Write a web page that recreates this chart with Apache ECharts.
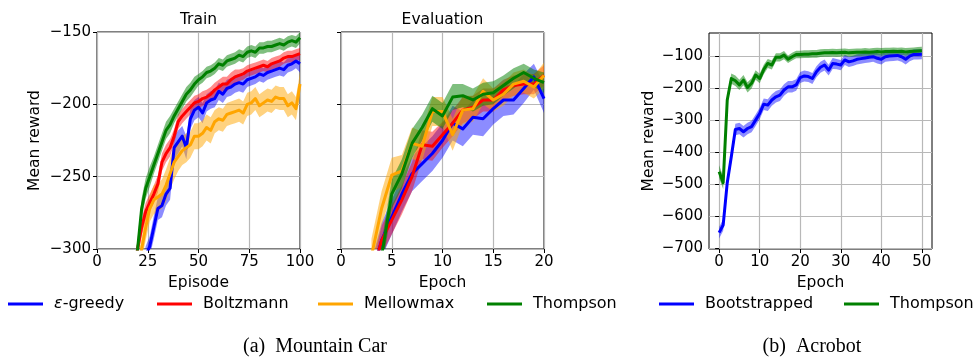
<!DOCTYPE html>
<html>
<head>
<meta charset="utf-8">
<script src="https://cdn.jsdelivr.net/npm/echarts@6/dist/echarts.min.js"></script>
<style>
  html, body { margin: 0; padding: 0; background: #fff; }
  #chart { width: 974px; height: 358px; }
</style>
</head>
<body>
<div id="chart"></div>
<script>
// ---------- Mountain Car: training curves (mean reward per episode) ----------
const trainEpisodes = [18,20,22,24,26,28,30,32,34,36,38,40,42,44,46,48,50,52,54,56,58,60,62,64,66,68,70,72,74,76,78,80,82,84,86,88,90,92,94,96,98,100];
const trainGreedy = [-340,-330,-318,-305,-298,-285,-272,-270,-262,-258,-230,-226,-222,-230,-210,-204,-202,-206,-199,-197,-196,-191,-193,-189,-188,-186,-185,-186,-183,-182,-181,-179,-180,-178,-177,-176,-175,-176,-173,-172,-170,-172];
const trainGreedySpread = [6,6,6,7,7,8,8,8,8,8,8,8,7,8,7,7,7,7,6,6,6,6,6,6,6,6,6,6,5,5,5,5,5,5,5,5,5,5,5,5,5,6];
const trainBoltzmann = [-320,-300,-285,-274,-268,-262,-255,-240,-234,-230,-222,-212,-208,-205,-202,-199,-198,-196,-195,-193,-190,-188,-186,-186,-183,-181,-180,-179,-177,-176,-175,-174,-173,-174,-172,-171,-170,-168,-167,-167,-166,-165];
const trainBoltzmannSpread = [6,6,6,6,6,6,6,6,6,6,5,5,5,5,5,5,5,5,5,5,5,5,5,5,5,5,4,4,4,4,4,4,4,4,4,4,4,4,4,4,4,4];
const trainMellowmax = [-330,-315,-300,-285,-272,-266,-264,-262,-256,-248,-240,-236,-232,-230,-228,-222,-222,-220,-216,-218,-212,-210,-211,-207,-206,-205,-204,-206,-200,-199,-196,-201,-199,-197,-198,-195,-196,-196,-201,-199,-203,-186];
const trainMellowmaxSpread = [8,8,8,9,9,10,10,10,11,11,12,10,10,10,9,9,9,9,9,9,8,8,8,8,8,8,8,8,8,8,8,8,8,8,8,8,8,8,8,8,8,8];
const trainThompson = [-320,-300,-272,-258,-250,-242,-234,-226,-218,-214,-208,-203,-198,-193,-190,-186,-183,-181,-178,-177,-175,-172,-173,-170,-169,-168,-166,-167,-164,-163,-164,-161,-161,-160,-160,-159,-158,-159,-157,-156,-157,-154];
const trainThompsonSpread = [7,7,7,7,7,6,6,6,6,6,5,5,5,5,5,5,4,4,4,4,4,4,4,4,4,4,4,4,4,4,4,4,4,4,4,4,4,4,4,4,4,4];

// ---------- Mountain Car: evaluation curves (mean reward per epoch) ----------
const evalEpochs = [3,4,5,6,7,8,9,10,11,12,13,14,15,16,17,18,19,20];
const evalGreedy = [-320,-294,-278,-262,-248,-241,-234,-225,-213,-217,-209,-210,-203,-197,-197,-189,-181,-196];
const evalGreedySpread = [12,12,12,12,12,12,12,12,12,12,12,12,11,11,10,10,9,10];
const evalBoltzmann = [-320,-294,-280,-266,-250,-228,-229,-221,-213,-204,-202,-197,-197,-190,-187,-186,-186,-180];
const evalBoltzmannSpread = [10,10,10,10,10,10,10,9,9,9,8,8,8,7,7,7,7,7];
const evalMellowmax = [-305,-272,-249,-246,-227,-229,-205,-205,-221,-204,-203,-191,-197,-193,-186,-184,-188,-180];
const evalMellowmaxSpread = [12,12,12,11,11,10,10,10,11,10,9,9,8,8,8,8,8,9];
const evalThompson = [-320,-305,-262,-248,-227,-216,-203,-208,-195,-194,-197,-193,-192,-187,-182,-178,-182,-185];
const evalThompsonSpread = [10,10,10,10,10,9,9,9,9,8,8,8,8,7,7,6,6,7];

// ---------- Acrobot: evaluation curves ----------
const acroEpochs = [0,1,2,3,4,5,6,7,8,9,10,11,12,13,14,15,16,17,18,19,20,21,22,23,24,25,26,27,28,29,30,31,32,33,34,35,36,37,38,39,40,41,42,43,44,45,46,47,48,49,50];
const acroBootstrapped = [-651,-627,-495,-414,-329,-326,-336,-326,-320,-300,-279,-250,-253,-237,-227,-222,-206,-196,-196,-190,-167,-162,-164,-170,-149,-135,-128,-144,-123,-125,-128,-112,-118,-115,-110,-108,-106,-104,-102,-107,-110,-102,-100,-99,-98,-102,-110,-100,-95,-95,-94];
const acroBootstrappedSpread = [18,18,18,18,18,18,18,18,18,18,18,18,18,18,18,18,18,18,18,18,17,17,17,17,17,17,17,17,17,16,16,16,16,16,16,16,16,16,16,16,16,16,16,16,16,16,16,16,16,16,16];
const acroThompson = [-461,-495,-237,-170,-177,-190,-175,-198,-185,-159,-170,-142,-123,-128,-104,-104,-97,-110,-102,-95,-95,-94,-94,-93,-93,-91,-90,-90,-89,-90,-89,-88,-90,-89,-88,-88,-87,-88,-87,-86,-87,-86,-86,-85,-86,-85,-87,-86,-85,-84,-83];
const acroThompsonSpread = [20,20,16,16,16,16,16,16,16,15,15,15,14,14,13,13,13,12,12,12,12,12,12,12,12,12,12,12,12,12,12,12,12,12,12,12,12,12,12,12,12,12,12,12,12,12,12,12,12,12,12];

// Tick values
const trainXTicks = [0,25,50,75,100];
const evalXTicks = [0,5,10,15,20];
const mcYTicks = [-300,-250,-200,-150];
const acroXTicks = [0,10,20,30,40,50];
const acroYTicks = [-700,-600,-500,-400,-300,-200,-100];

// Method names and colours
const mcNames = ['ε-greedy','Boltzmann','Mellowmax','Thompson'];
const acroNames = ['Bootstrapped','Thompson'];
const COLORS = { 'ε-greedy':'#0000ff', 'Boltzmann':'#ff0000', 'Mellowmax':'#ffa500', 'Thompson':'#008000', 'Bootstrapped':'#0000ff' };
const BAND = { 'ε-greedy':'rgba(0,0,255,0.45)', 'Boltzmann':'rgba(255,0,0,0.45)', 'Mellowmax':'rgba(255,165,0,0.5)', 'Thompson':'rgba(0,128,0,0.5)', 'Bootstrapped':'rgba(0,0,255,0.45)' };

const FONT = 'DejaVu Sans';
const minus = v => (v < 0 ? '\u2212' + Math.abs(v) : String(v));

// A mean line plus a shaded band (mean ± spread) drawn as one clipped polygon
function curve(name, xs, ys, spread, axisIndex) {
  const mean = xs.map((x, i) => [x, ys[i]]);
  const bandData = xs.map((x, i) => [x, ys[i] - spread[i], ys[i] + spread[i]]);
  const line = {
    type: 'line', name, xAxisIndex: axisIndex, yAxisIndex: axisIndex, symbol: 'none', clip: true, silent: true,
    data: mean, color: COLORS[name], lineStyle: { width: 3, color: COLORS[name], join: 'round' }, z: 3
  };
  const band = {
    type: 'custom', name, xAxisIndex: axisIndex, yAxisIndex: axisIndex, silent: true, z: 2,
    data: bandData, encode: { x: 0, y: [1, 2] },
    itemStyle: { color: COLORS[name] },
    renderItem(params, api) {
      if (params.dataIndex !== 0) return null;
      const top = bandData.map(d => api.coord([d[0], d[2]]));
      const bottom = bandData.slice().reverse().map(d => api.coord([d[0], d[1]]));
      const cs = params.coordSys;
      return {
        type: 'polygon',
        shape: { points: top.concat(bottom) },
        style: { fill: BAND[name], stroke: null },
        clipPath: { type: 'rect', shape: { x: cs.x, y: cs.y, width: cs.width, height: cs.height } }
      };
    }
  };
  return [line, band];
}

const axisText = { color: '#000', fontFamily: FONT, fontSize: 15 };
const nameText = { color: '#000', fontFamily: FONT, fontSize: 15.5 };
const splitLine = { show: true, lineStyle: { color: '#b8b8b8', width: 1.2 } };
const tick = { show: true, inside: false, length: 4, lineStyle: { color: '#000', width: 1 } };

function xAxis(gridIndex, min, max, ticks, name, useCustom) {
  const ax = {
    type: 'value', gridIndex, min, max, name, nameLocation: 'middle', nameGap: 24,
    nameTextStyle: nameText,
    axisLine: { show: false },
    axisTick: Object.assign({}, tick),
    axisLabel: Object.assign({ margin: 6, formatter: minus }, axisText),
    splitLine
  };
  if (useCustom) {
    ax.axisTick.customValues = ticks;
    ax.axisLabel.customValues = ticks;
  } else {
    ax.interval = ticks[1] - ticks[0];
  }
  return ax;
}

function yAxis(gridIndex, min, max, ticks, name, showLabels, useCustom, gap) {
  const ax = {
    type: 'value', gridIndex, min, max, name, nameLocation: 'middle', nameGap: gap,
    nameTextStyle: nameText,
    axisLine: { show: false },
    axisTick: Object.assign({}, tick),
    axisLabel: Object.assign({ show: showLabels, margin: 6, formatter: minus }, axisText),
    splitLine
  };
  if (useCustom) {
    ax.axisTick.customValues = ticks;
    ax.axisLabel.customValues = ticks;
  } else {
    ax.interval = ticks[1] - ticks[0];
  }
  return ax;
}

const gridBox = { show: true, borderColor: '#000', borderWidth: 1, backgroundColor: 'transparent' };

const series = [];
const trainSets = [[trainGreedy, trainGreedySpread], [trainBoltzmann, trainBoltzmannSpread], [trainMellowmax, trainMellowmaxSpread], [trainThompson, trainThompsonSpread]];
const evalSets = [[evalGreedy, evalGreedySpread], [evalBoltzmann, evalBoltzmannSpread], [evalMellowmax, evalMellowmaxSpread], [evalThompson, evalThompsonSpread]];
mcNames.forEach((n, k) => series.push(...curve(n, trainEpisodes, trainSets[k][0], trainSets[k][1], 0)));
mcNames.forEach((n, k) => series.push(...curve(n, evalEpochs, evalSets[k][0], evalSets[k][1], 1)));
const acroSets = [[acroBootstrapped, acroBootstrappedSpread], [acroThompson, acroThompsonSpread]];
acroNames.forEach((n, k) => series.push(...curve(n, acroEpochs, acroSets[k][0], acroSets[k][1], 2)));

// One legend block per entry so each sits at its own place along the bottom row
const legendNames = ['ε-greedy','Boltzmann','Mellowmax','Thompson','Bootstrapped','Thompson'];
const legendLeft = [8, 157, 318, 487, 659, 844];
const legends = legendNames.map((n, i) => ({
  left: legendLeft[i], top: 296, padding: 0, orient: 'horizontal',
  icon: 'rect', itemWidth: 35, itemHeight: 3, itemGap: 0,
  data: [{ name: n, itemStyle: { color: COLORS[n] } }],
  formatter: name => (name === 'ε-greedy' ? '{e|ε}{p|-greedy}' : '{t|' + name + '}'),
  textStyle: { color: '#000', fontFamily: FONT, fontSize: 16,
    rich: {
      e: { fontStyle: 'italic', fontFamily: FONT, fontSize: 16, color: '#000', padding: [0, 0, 0, 6] },
      p: { fontFamily: FONT, fontSize: 16, color: '#000' },
      t: { fontFamily: FONT, fontSize: 16, color: '#000', padding: [0, 0, 0, 6] }
    } },
  selectedMode: true
}));

const option = {
  animation: false,
  backgroundColor: '#fff',
  title: [
    { text: 'Train', left: 198.5, top: 12, textAlign: 'center', padding: 0, textStyle: { color: '#000', fontFamily: FONT, fontSize: 15.5, fontWeight: 'normal' } },
    { text: 'Evaluation', left: 442.5, top: 12, textAlign: 'center', padding: 0, textStyle: { color: '#000', fontFamily: FONT, fontSize: 15.5, fontWeight: 'normal' } },
    { text: '(a)  Mountain Car', left: 315, top: 337, textAlign: 'center', padding: 0, textStyle: { color: '#000', fontFamily: 'Liberation Serif', fontSize: 20, fontWeight: 'normal' } },
    { text: '(b)  Acrobot', left: 812, top: 337, textAlign: 'center', padding: 0, textStyle: { color: '#000', fontFamily: 'Liberation Serif', fontSize: 20, fontWeight: 'normal' } }
  ],
  legend: legends,
  grid: [
    Object.assign({ left: 97, top: 32, width: 203, height: 217 }, gridBox),
    Object.assign({ left: 341, top: 32, width: 203, height: 217 }, gridBox),
    Object.assign({ left: 709, top: 33, width: 223, height: 216 }, gridBox)
  ],
  xAxis: [
    xAxis(0, 0, 100, trainXTicks, 'Episode', false),
    xAxis(1, 0, 20, evalXTicks, 'Epoch', false),
    xAxis(2, -2.5, 52.5, acroXTicks, 'Epoch', true)
  ],
  yAxis: [
    yAxis(0, -300, -150, mcYTicks, 'Mean reward', true, false, 54),
    yAxis(1, -300, -150, mcYTicks, '', false, false, 54),
    yAxis(2, -702, -28, acroYTicks, 'Mean reward', true, true, 52)
  ],
  series
};

const chart = echarts.init(document.getElementById('chart'), null, { renderer: 'canvas' });
chart.setOption(option);
</script>
</body>
</html>
